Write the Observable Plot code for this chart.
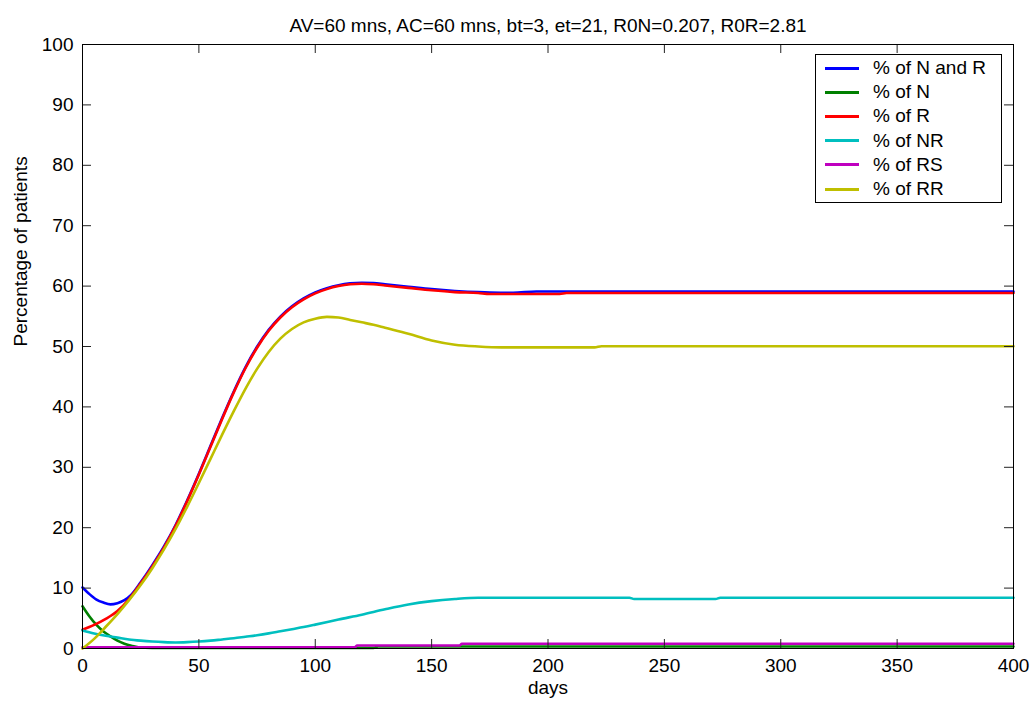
<!DOCTYPE html>
<html>
<head>
<meta charset="utf-8">
<script src="https://cdn.jsdelivr.net/npm/d3@7"></script>
<script src="https://cdn.jsdelivr.net/npm/@observablehq/plot@0.6"></script>
<style>
  html, body { margin: 0; padding: 0; background: #fff; }
  #wrap { position: relative; width: 1032px; height: 704px; font-family: "Liberation Sans", Arial, sans-serif; }
  #legend { position: absolute; left: 815px; top: 54px; width: 187px; height: 149px; border: 1px solid #000; background: #fff; box-sizing: border-box; }
  .row { position: absolute; left: 0; height: 24px; display: flex; align-items: center; font-size: 19px; color: #000; }
  .sw { width: 34px; height: 3px; margin-left: 9px; margin-right: 14px; }
</style>
</head>
<body>
<div id="wrap"></div>
<script>
const titleText = "AV=60 mns, AC=60 mns, bt=3, et=21, R0N=0.207, R0R=2.81";
const xLabel = "days";
const yLabel = "Percentage of patients";
const xTicks = [0, 50, 100, 150, 200, 250, 300, 350, 400];
const yTicks = [0, 10, 20, 30, 40, 50, 60, 70, 80, 90, 100];

const seriesNames = ["% of N and R", "% of N", "% of R", "% of NR", "% of RS", "% of RR"];
const seriesColors = ["#0000ff", "#008000", "#ff0000", "#00bfbf", "#bf00bf", "#bfbf00"];

const blueDays = [0,3,6,9,12,15,18,21,25,30,35,40,45,50,55,60,65,70,75,80,85,90,95,100,105,110,115,120,125,130,140,150,160,170,175,185,195,400];
const blueVals = [10.1,9.0,8.1,7.6,7.3,7.5,8.0,8.9,10.95,13.8,16.9,20.45,24.55,28.95,33.55,38.15,42.55,46.55,49.95,52.75,54.95,56.65,57.95,58.95,59.65,60.15,60.45,60.55,60.5,60.3,59.9,59.5,59.2,59.0,58.95,58.9,59.1,59.1];

const greenDays = [0,3,6,9,12,15,18,21,24,30,40,117,118,125,127,400];
const greenVals = [7.0,5.3,3.9,2.8,2.0,1.3,0.8,0.45,0.2,0.1,0.08,0.08,0.1,0.1,0.33,0.33];

const redDays = [0,5,10,15,20,25,30,35,40,45,50,55,60,65,70,75,80,85,90,95,100,105,110,115,120,125,130,140,150,160,170,175,205,208,400];
const redVals = [3.1,3.9,4.9,6.2,8.2,10.8,13.6,16.7,20.3,24.4,28.8,33.4,38.0,42.4,46.4,49.8,52.6,54.8,56.5,57.8,58.8,59.5,60.0,60.3,60.4,60.3,60.1,59.7,59.3,59.0,58.85,58.7,58.7,58.85,58.85];

const cyanDays = [0,5,10,15,20,25,30,35,40,45,50,55,60,65,70,75,80,85,90,95,100,110,120,130,140,150,160,170,235,237,272,274,400];
const cyanVals = [3.0,2.5,2.1,1.8,1.5,1.3,1.15,1.05,1.0,1.05,1.15,1.3,1.5,1.7,1.95,2.2,2.5,2.85,3.2,3.55,3.95,4.8,5.6,6.5,7.3,7.85,8.2,8.4,8.4,8.2,8.2,8.4,8.4];

const magentaDays = [0,117,118,162,163,400];
const magentaVals = [0.2,0.2,0.5,0.5,0.78,0.78];

const yellowDays = [0,5,10,15,20,25,30,35,40,45,50,55,60,65,70,75,80,85,90,95,100,105,110,115,120,125,130,140,150,160,170,180,220,223,400];
const yellowVals = [0,1.6,3.6,5.7,8.0,10.5,13.3,16.4,19.8,23.5,27.4,31.4,35.4,39.3,43.0,46.3,49.1,51.3,52.9,54.0,54.6,54.9,54.8,54.4,54.0,53.6,53.1,52.1,51.0,50.3,50.0,49.85,49.85,50.05,50.05];

const seriesDays = [blueDays, greenDays, redDays, cyanDays, magentaDays, yellowDays];
const seriesVals = [blueVals, greenVals, redVals, cyanVals, magentaVals, yellowVals];

const W = 1032, H = 704;
const mL = 82, mR = 19, mT = 44, mB = 56;
const innerW = W - mL - mR, innerH = H - mT - mB;
const tickLen = 9;

const lineMarks = seriesNames.map((name, i) =>
  Plot.line(seriesDays[i].map((d, j) => ({day: d, value: seriesVals[i][j]})), {
    x: "day", y: "value", stroke: seriesColors[i], strokeWidth: 2.6, curve: "monotone-x"
  })
);

const chart = Plot.plot({
  width: W, height: H,
  marginLeft: mL, marginRight: mR, marginTop: mT, marginBottom: mB,
  style: {fontFamily: "'Liberation Sans', Arial, sans-serif", fontSize: "19px", color: "#000", background: "#fff"},
  x: {domain: [0, 400], ticks: xTicks, tickSize: 0, tickPadding: 10, label: null},
  y: {domain: [0, 100], ticks: yTicks, tickSize: 0, tickPadding: 9, label: null},
  marks: [
    ...lineMarks,
    Plot.tickX(xTicks, {x: d => d, insetTop: innerH - tickLen, stroke: "#222"}),
    Plot.tickX(xTicks, {x: d => d, insetBottom: innerH - tickLen, stroke: "#222"}),
    Plot.tickY(yTicks, {y: d => d, insetRight: innerW - tickLen, stroke: "#222"}),
    Plot.tickY(yTicks, {y: d => d, insetLeft: innerW - tickLen, stroke: "#222"}),
    Plot.frame({stroke: "#000"}),
    Plot.text([titleText], {frameAnchor: "top", dy: -26, fill: "#000"}),
    Plot.text([xLabel], {frameAnchor: "bottom", dy: 45, fill: "#000"}),
    Plot.text([yLabel], {frameAnchor: "left", dx: -62, rotate: -90, fill: "#000"})
  ]
});

const wrap = document.getElementById("wrap");
wrap.appendChild(chart);

const legend = document.createElement("div");
legend.id = "legend";
seriesNames.forEach((name, i) => {
  const row = document.createElement("div");
  row.className = "row";
  row.style.top = (1 + i * 24.2) + "px";
  const sw = document.createElement("div");
  sw.className = "sw";
  sw.style.background = seriesColors[i];
  const label = document.createElement("span");
  label.textContent = name;
  row.appendChild(sw);
  row.appendChild(label);
  legend.appendChild(row);
});
wrap.appendChild(legend);
</script>
</body>
</html>
